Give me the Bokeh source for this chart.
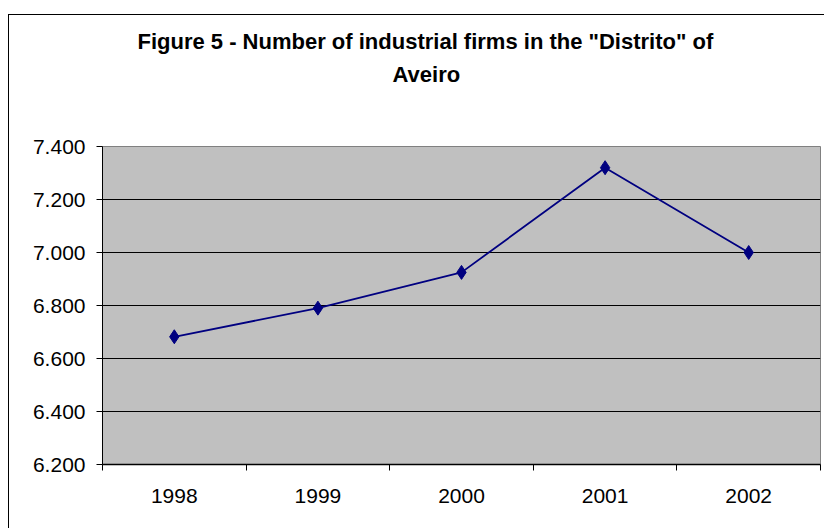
from bokeh.plotting import figure
from bokeh.models import Range1d, FixedTicker, Title
from bokeh.embed import file_html
from bokeh.resources import INLINE

# ---- data ----
years = [1998, 1999, 2000, 2001, 2002]
firms = [6682, 6790, 6925, 7320, 7000]
y_ticks = [6200, 6400, 6600, 6800, 7000, 7200, 7400]
y_tick_labels = ["6.200", "6.400", "6.600", "6.800", "7.000", "7.200", "7.400"]
title_line1 = 'Figure 5 - Number of industrial firms in the "Distrito" of'
title_line2 = "Aveiro"

FONT = "Liberation Sans"

p = figure(width=816, height=514, output_backend="svg", toolbar_location=None,
           x_range=Range1d(years[0] - 0.5, years[-1] + 0.5),
           y_range=Range1d(y_ticks[0], y_ticks[-1]),
           min_border_left=93, min_border_right=5, min_border_top=131,
           min_border_bottom=65)
p.styles = {"margin-left": "8px", "margin-top": "14px",
            "border-left": "1px solid black", "border-top": "1px solid black"}

p.background_fill_color = "#C0C0C0"
p.border_fill_color = "white"
p.outline_line_color = "#808080"
p.outline_line_width = 1

# spacer between plot and title, then the two title lines
spacer = Title(text=" ", standoff=57, text_font=FONT, text_font_size="1px")
t2 = Title(text=title_line2, align="left", offset=290, standoff=0,
           text_font=FONT, text_font_size="22px", text_font_style="bold",
           text_color="black")
t1 = Title(text=title_line1, align="left", offset=35, standoff=12,
           text_font=FONT, text_font_size="22px", text_font_style="bold",
           text_color="black")
p.add_layout(spacer, "above")
p.add_layout(t2, "above")
p.add_layout(t1, "above")

# grid
p.xgrid.grid_line_color = None
p.ygrid.ticker = FixedTicker(ticks=y_ticks)
p.ygrid.grid_line_color = "#000000"
p.ygrid.grid_line_width = 1

# y axis
p.yaxis.ticker = FixedTicker(ticks=y_ticks)
p.yaxis.major_label_overrides = {t: l for t, l in zip(y_ticks, y_tick_labels)}
p.yaxis.axis_line_color = "black"
p.yaxis.major_tick_line_color = "black"
p.yaxis.major_tick_out = 6
p.yaxis.major_tick_in = 0
p.yaxis.minor_tick_line_color = None
p.yaxis.major_label_standoff = 11
p.yaxis.major_label_text_font = FONT
p.yaxis.major_label_text_font_size = "21px"
p.yaxis.major_label_text_color = "black"

# x axis: labels at category centres, ticks at boundaries
bounds = [y - 0.5 for y in years] + [years[-1] + 0.5]
p.xaxis.ticker = FixedTicker(ticks=years, minor_ticks=bounds)
p.xaxis.axis_line_color = "black"
p.xaxis.axis_line_width = 1.5
p.xaxis.major_tick_line_color = None
p.xaxis.major_tick_out = 0
p.xaxis.major_tick_in = 0
p.xaxis.minor_tick_line_color = "black"
p.xaxis.minor_tick_out = 6
p.xaxis.minor_tick_in = 0
p.xaxis.major_label_standoff = 18
p.xaxis.major_label_text_font = FONT
p.xaxis.major_label_text_font_size = "21px"
p.xaxis.major_label_text_color = "black"

# series
p.line(years, firms, line_color="#000080", line_width=1.8)
p.scatter(years, firms, marker="diamond", size=14, fill_color="#000080",
          line_color="#000080")

open("out.html", "w").write(file_html(p, INLINE))
